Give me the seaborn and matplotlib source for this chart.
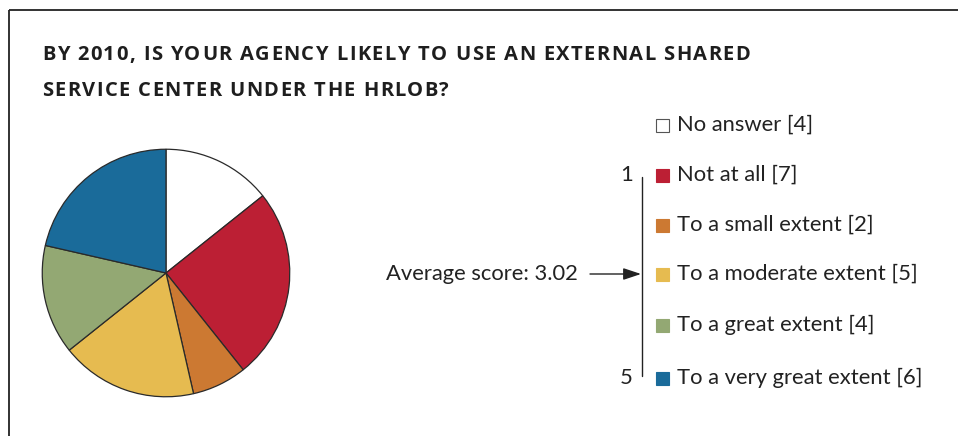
import matplotlib
matplotlib.use("Agg")
import matplotlib.pyplot as plt
import seaborn as sns
from matplotlib.patches import Rectangle

sns.set_theme(style="white")
plt.rcParams["font.family"] = ["Lato", "DejaVu Sans"]

# Survey responses
categories = ["No answer", "Not at all", "To a small extent",
              "To a moderate extent", "To a great extent", "To a very great extent"]
counts = [4, 7, 2, 5, 4, 6]
colors = ["#FFFFFF", "#BC1F34", "#CC7932", "#E6BB50", "#93A873", "#1A6B9A"]
average_score = 3.02
scale_ends = ["1", "5"]
title_lines = ["BY 2010, IS YOUR AGENCY LIKELY TO USE AN EXTERNAL SHARED",
               "SERVICE CENTER UNDER THE HRLOB?"]

W, H = 958, 436
fig = plt.figure(figsize=(W / 100, H / 100), dpi=100)
fig.patch.set_facecolor("white")

# Overlay axes in pixel coordinates for frame, title and legend
ov = fig.add_axes([0, 0, 1, 1])
ov.set_xlim(0, W)
ov.set_ylim(H, 0)
ov.axis("off")

# Frame: top and left rules
ov.plot([9, W], [10, 10], color="#222222", lw=1.3, solid_capstyle="butt")
ov.plot([9, 9], [10, H], color="#222222", lw=1.3, solid_capstyle="butt")

# Pie
cx, cy, r = 166, 273, 125
pax = fig.add_axes([(cx - r) / W, (H - cy - r) / H, 2 * r / W, 2 * r / H])
pax.pie(counts, colors=colors, startangle=90, counterclock=False,
        wedgeprops=dict(edgecolor="#2a2a2a", linewidth=0.9))
pax.set_xlim(-1.01, 1.01)
pax.set_ylim(-1.01, 1.01)
pax.set_aspect("auto")

# Tracked (letter-spaced) title
renderer = fig.canvas.get_renderer()
title_kw = dict(fontsize=14.5, fontweight="bold", family=["Open Sans", "DejaVu Sans"],
                color="#1e1e1e", va="baseline", ha="left")


def char_widths(s):
    ws = []
    for ch in s:
        if ch == " ":
            t = ov.text(0, 0, "a a", **title_kw)
            t2 = ov.text(0, 0, "aa", **title_kw)
            w = t.get_window_extent(renderer).width - t2.get_window_extent(renderer).width
            t.remove(); t2.remove()
        else:
            t = ov.text(0, 0, ch, **title_kw)
            w = t.get_window_extent(renderer).width
            t.remove()
        ws.append(w)
    return ws


line1_w = char_widths(title_lines[0])
tracking = (750 - 42 - sum(line1_w)) / (len(title_lines[0]) - 1)
for line, base in zip(title_lines, [60, 96]):
    ws = char_widths(line)
    x = 42
    for ch, w in zip(line, ws):
        ov.text(x, base, ch, **title_kw)
        x += w + tracking

# Legend
row_y = [125, 175, 225, 274, 325, 378]
text_kw = dict(fontsize=15.8, color="#222222", va="center", ha="left")
for cat, n, col, y in zip(categories, counts, colors, row_y):
    ov.add_patch(Rectangle((656, y - 6.5), 13, 13, facecolor=col,
                           edgecolor="#555555" if col == "#FFFFFF" else col, lw=0.8))
    ov.text(677, y, f"{cat} [{n}]", **text_kw)

# Scale bracket
ov.plot([642, 642], [177, 376], color="#222222", lw=1.0)
ov.text(633, row_y[1], scale_ends[0], **{**text_kw, "ha": "right"})
ov.text(633, row_y[-1], scale_ends[1], **{**text_kw, "ha": "right"})

# Average score pointer
ov.annotate("", xy=(641, 274), xytext=(590, 274),
            arrowprops=dict(arrowstyle="-|>,head_length=0.9,head_width=0.3",
                            color="#222222", lw=1.0,
                            mutation_scale=12, shrinkA=0, shrinkB=0))
ov.text(578, 274, f"Average score: {average_score:.2f}", **{**text_kw, "ha": "right"})

fig.savefig("out.png", dpi=100, facecolor="white")
